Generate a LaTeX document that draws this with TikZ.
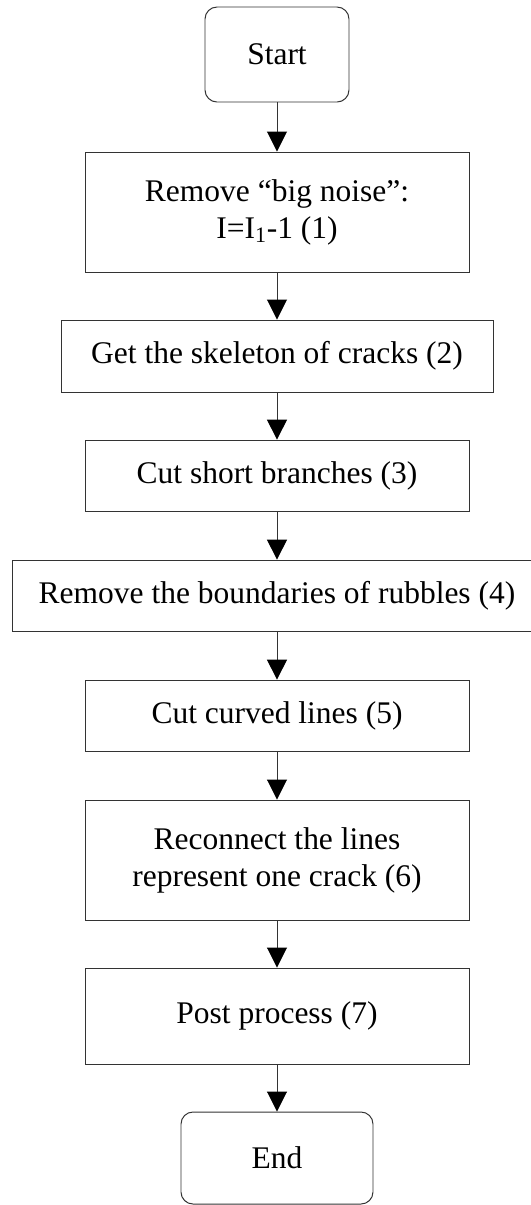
\documentclass[tikz,border=0pt]{standalone}
\usepackage{fontspec}
\setmainfont{Liberation Serif}
\usepackage{tikz}
\usetikzlibrary{arrows.meta}
\definecolor{Edge}{HTML}{333333}

\begin{document}
\begin{tikzpicture}[
  proc/.style={rectangle, draw=Edge, fill=white, line width=0.7pt,
               minimum width=9.6cm, minimum height=1.775cm, align=center,
               inner sep=0pt, font=\fontsize{22.4}{26.3}\selectfont},
  term/.style={proc, rounded corners=0.3cm},
  arr/.style={-{Triangle[length=0.5cm, width=0.5cm, color=black]},
              line width=0.7pt, draw=Edge}
]
\useasboundingbox (-6.925,0) rectangle (6.35,-30.125);

\node[term, minimum width=3.6cm, minimum height=2.375cm] (start) at (0,-1.3625) {Start};
\node[proc, minimum height=3cm]     (s1) at (0,-5.3)   {Remove “big noise”:\\I=I\textsubscript{1}-1 (1)};
\node[proc, minimum width=10.8cm, minimum height=1.8cm]
                                    (s2) at (0,-8.9)   {Get the skeleton of cracks (2)};
\node[proc]                         (s3) at (0,-11.89) {Cut short branches (3)};
\node[proc, minimum width=13.25cm]  (s4) at (0,-14.89) {Remove the boundaries of rubbles (4)};
\node[proc]                         (s5) at (0,-17.89) {Cut curved lines (5)};
\node[proc, minimum height=3cm]     (s6) at (0,-21.5)  {Reconnect the lines\\represent one crack (6)};
\node[proc, minimum height=2.4cm]   (s7) at (0,-25.4)  {Post process (7)};
\node[term, minimum width=4.8cm, minimum height=2.3cm] (end) at (0,-28.95) {End};

\draw[arr] (start) -- (s1);
\draw[arr] (s1) -- (s2);
\draw[arr] (s2) -- (s3);
\draw[arr] (s3) -- (s4);
\draw[arr] (s4) -- (s5);
\draw[arr] (s5) -- (s6);
\draw[arr] (s6) -- (s7);
\draw[arr] (s7) -- (end);
\end{tikzpicture}
\end{document}
